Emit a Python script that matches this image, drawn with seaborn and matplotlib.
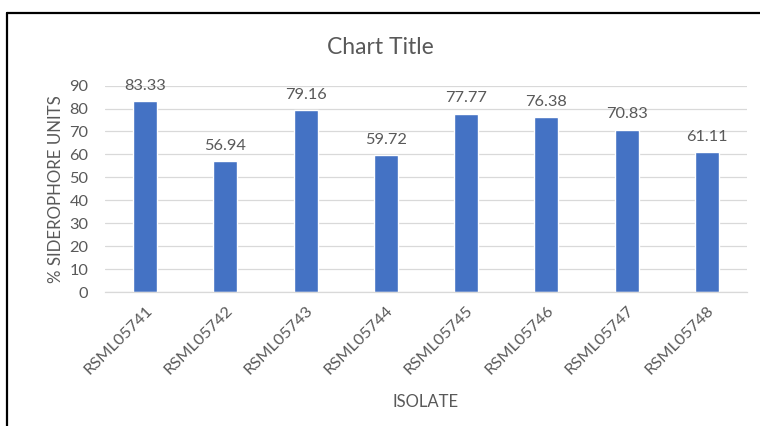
import matplotlib
matplotlib.use("Agg")
import matplotlib.pyplot as plt
import seaborn as sns
import pandas as pd
from matplotlib.lines import Line2D

isolates = ["RSML05741", "RSML05742", "RSML05743", "RSML05744",
            "RSML05745", "RSML05746", "RSML05747", "RSML05748"]
siderophore = [83.33, 56.94, 79.16, 59.72, 77.77, 76.38, 70.83, 61.11]
y_ticks = [0, 10, 20, 30, 40, 50, 60, 70, 80, 90]

df = pd.DataFrame({"ISOLATE": isolates, "SIDEROPHORE": siderophore})

sns.set_style("white")
plt.rcParams["font.family"] = ["Lato", "DejaVu Sans"]
text_grey = "#595959"

fig = plt.figure(figsize=(7.6, 4.26), dpi=100)
ax = fig.add_axes([105 / 760, 1 - 292 / 426, 642 / 760, (292 - 85.6) / 426])

sns.barplot(data=df, x="ISOLATE", y="SIDEROPHORE", color="#4472C4",
            saturation=1, width=0.3, ax=ax)

ax.set_ylim(0, 90)
ax.set_xlim(-0.5, len(isolates) - 0.5)
ax.set_yticks(y_ticks)
ax.yaxis.grid(True, color="#d9d9d9", linewidth=0.9)
ax.set_axisbelow(True)
for side in ["top", "right", "left"]:
    ax.spines[side].set_visible(False)
ax.spines["bottom"].set_color("#d9d9d9")
ax.spines["bottom"].set_linewidth(0.9)
ax.tick_params(axis="both", length=0, colors=text_grey, labelsize=11.8)
ax.tick_params(axis="y", pad=12)
ax.tick_params(axis="x", pad=8)
plt.setp(ax.get_xticklabels(), rotation=45, ha="right", rotation_mode="anchor")

for container in ax.containers:
    ax.bar_label(container, labels=[f"{v:.2f}" for v in siderophore],
                 padding=6, color=text_grey, fontsize=11.8)

ax.set_xlabel("ISOLATE", color=text_grey, fontsize=12, labelpad=12)
ax.set_ylabel("% SIDEROPHORE UNITS", color=text_grey, fontsize=12.2, labelpad=4)
fig.text(0.5, 1 - 47 / 426, "Chart Title", ha="center", va="center",
         color=text_grey, fontsize=16.5)

# chart frame edges on the top and left
fig.add_artist(Line2D([7 / 760, 1], [1 - 13 / 426, 1 - 13 / 426],
                      transform=fig.transFigure, color="black", linewidth=1.6))
fig.add_artist(Line2D([7 / 760, 7 / 760], [0, 1 - 13 / 426],
                      transform=fig.transFigure, color="black", linewidth=1.6))

fig.savefig("out.png", dpi=100, facecolor="white")
